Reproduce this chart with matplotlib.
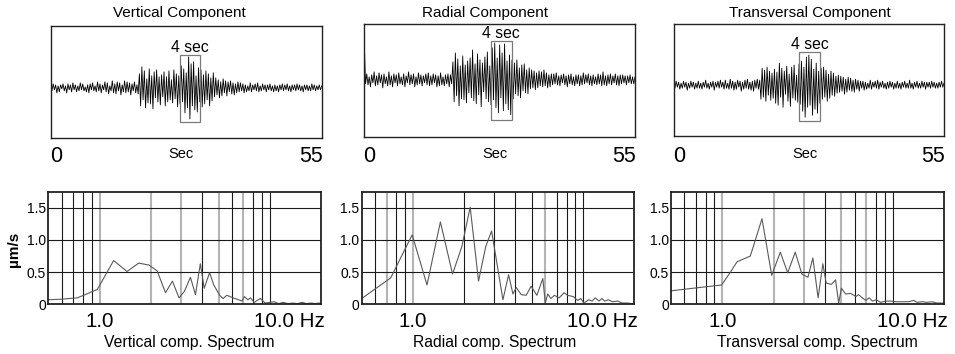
import matplotlib
matplotlib.use("Agg")
import matplotlib.pyplot as plt
import numpy as np

plt.rcParams['font.family'] = ['Liberation Sans', 'DejaVu Sans']

# ---------------- data ----------------
components = ["Vertical", "Radial", "Transversal"]
trace_duration = 55  # seconds

vert_trace = [2, -3, 4, -2, 3, -5, 2, -4, 3, -1, 4, -3, 2, -5, 4, -2, 3, -4, 5, -2,
              3, -4, 2, -3, 5, -2, 4, -3, 1, -4, 3, -5, 4, -2, 5, -3, 2, -4, 6, -3,
              4, -5, 3, -2, 6, -4, 5, -6, 2, -3, 7, -5, 4, -6, 6, -3, 5, -7, 3, -4,
              7, -5, 6, -4, 5, -7, 4, -3, 6, -5, 3, -6,
              14, -18, 21, -12, 17, -20, 9, -15, 19, -16, 12, -21, 16, -10, 18, -14, 11,
              -17, 13, -9, 16, -18, 11, -14, 17, -12, 8, -15, 18, -11, 14, -19, 12,
              -16, 22, -14, 19, -25, 15, -20, 31, -31, 24, -18, 26, -22, 12, -24, 20, -14,
              18, -19, 13, -16, 17, -12, 14, -18, 10, -13, 15,
              -9, 10, -7, 8, -10, 6, -8, 9, -5, 7, -8, 6, -4, 7, -6, 5, -7, 4, -5, 6,
              -4, 5, -3, 4, -5, 3, -4, 2, -3, 5, -4, 3, -2, 4, -3, 5, -4, 2, -3, 4,
              -2, 3, -4, 3, -2, 4, -3, 2, -4, 3, -3, 2, -4, 3, -2, 4, -3, 3, -2, 4,
              -3, 2, -4, 3, -2, 3, -3, 4, -2, 3, -3, 2, -4, 3, -2, 3, -3, 2, -3, 4,
              -2, 3, -3, 2, -2, 3, -2, 2]

rad_trace = [37, -4, 6, -5, 3, -7, 5, -3, 8, -6, 4, -5, 7, -3, 5, -8, 6, -4, 3, -6,
             8, -5, 4, -7, 6, -3, 5, -6, 7, -4, 3, -5, 6, -7, 4, -3, 8, -5, 5, -4,
             6, -7, 3, -5, 7, -4, 5, -6, 4, -3, 6, -5, 7, -6, 4, -5, 6, -3, 5, -7,
             4, -6, 7, -5, 3, -6, 5, -4, 6, -7, 5, -4,
             18, -22, 27, -16, 21, -26, 14, -19, 24, -20, 15, -23, 19, -13, 22,
             -18, 30, -21, 16, -24, 26, -15, 20, -27, 17, -12, 23, -19, 28, -22, 14, -25,
             32, -20, 37, -28, 22, -33, 35, -18, 27, -31, 36, -24, 19, -30, 25, -35, 20,
             -19, 17, -14, 20, -16, 12, -18, 15, -11, 16, -13, 10, -14, 12, -9,
             10, -8, 9, -10, 7, -8, 9, -6, 8, -7, 10, -6, 7, -8, 5, -7, 6,
             -5, 6, -4, 7, -5, 4, -6, 5, -3, 6, -5, 4, -7, 5, -4, 6, -5, 3, -6, 5,
             -4, 5, -6, 4, -5, 7, -4, 5, -3, 6, -5, 4, -6, 5, -4, 3, -5, 6, -4, 5,
             -6, 8, -5, 4, -6, 5, -4, 6, -5, 4, -3, 6, -5, 4, -6, 5, -4, 5, -3, 4,
             -5, 4, -3, 5, -4, 3, -4, 3]

trans_trace = [8, -3, 4, -2, 3, -4, 2, -3, 4, -2, 3, -5, 2, -3, 4, -2, 3, -4, 2, -3,
               4, -3, 2, -4, 3, -2, 5, -3, 2, -4, 3, -2, 4, -5, 3, -2, 4, -3, 5, -2,
               3, -4, 5, -3, 2, -4, 6, -3, 4, -5, 3, -4, 5, -2, 4, -6, 3, -4, 5, -3,
               6, -4, 3, -5, 4, -6, 5, -3, 6, -4, 5,
               -14, 17, -12, 15, -16, 18, -10, 14, -15, 12, -13, 16,
               -18, 13, -20, 22, -12, 17, -22, 14, -9, 19, -16, 11, -21, 18, -13, 20, -15, 10, -17, 21,
               -19, 24, -26, 18, -32, 28, -22, 30, -20, 26, -30, 16, -24, 22, -28, 14, -18,
               17, -14, 18, -12, 15, -16, 11, -13, 14, -10, 12, -11, 9,
               -8, 10, -7, 9, -6, 8, -9, 6, -7, 8, -5, 7, -6, 5, -7, 6, -4, 5, -6, 4,
               -3, 4, -5, 3, -4, 2, -3, 5, -4, 3, -2, 4, -3, 5, -4, 3, -2, 4, -3, 2,
               -4, 3, -3, 4, -2, 3, -4, 2, -3, 4, -3, 2, -4, 3, -2, 4, -3, 2, -3, 5,
               -3, 2, -4, 3, -2, 4, -3, 2, -3, 4, -2, 3, -4, 3, -2, 3, -3, 4, -2, 3,
               -3, 2, -3, 3, -2, 4, -2, 2]

# 4-second analysis windows: start, end (s), upper, lower amplitude
win_start = [26.2, 25.7, 25.5]
win_end = [30.3, 30.0, 29.8]
win_top = [33, 39, 33]
win_bottom = [-34, -40, -36]
trace_ylim = [(-50, 62), (-57, 56), (-51, 61)]

vert_f = [0.5, 0.6, 0.74, 0.97, 1.21, 1.45, 1.7, 1.95, 2.18, 2.44, 2.68, 2.93,
          3.15, 3.42, 3.66, 3.91, 4.12, 4.43, 4.69, 5.08, 5.32, 5.6, 6.09, 6.57,
          6.87, 7.1, 7.43, 7.7, 8.1, 8.8, 9.4, 10.0, 10.6, 11.3, 12.0, 12.8,
          13.6, 14.5, 15.5, 16.5, 17.5, 18.5, 19.5, 20]
vert_a = [0.07, 0.08, 0.10, 0.23, 0.68, 0.51, 0.64, 0.61, 0.52, 0.18, 0.36, 0.10,
          0.20, 0.42, 0.15, 0.63, 0.25, 0.49, 0.30, 0.14, 0.09, 0.14, 0.10, 0.07,
          0.05, 0.12, 0.07, 0.10, 0.03, 0.09, 0.02, 0.03, 0.04, 0.01, 0.03, 0.01,
          0.02, 0.01, 0.03, 0.01, 0.02, 0.01, 0.02, 0.01]

rad_f = [0.5, 0.74, 0.99, 1.21, 1.45, 1.71, 1.94, 2.17, 2.43, 2.68, 2.90, 3.38,
         3.65, 3.87, 4.05, 4.33, 4.63, 4.95, 5.35, 5.80, 6.0, 6.2, 6.47, 6.78,
         7.23, 7.73, 8.1, 8.76, 9.27, 9.7, 10.1, 10.8, 11.3, 11.8, 12.4, 12.9,
         13.4, 14.1, 14.9, 15.9, 17.0, 18.2, 19.4, 20]
rad_a = [0.09, 0.41, 1.08, 0.30, 1.28, 0.47, 0.90, 1.51, 0.36, 0.90, 1.14, 0.07,
         0.46, 0.16, 0.26, 0.15, 0.14, 0.28, 0.14, 0.40, 0.02, 0.16, 0.09, 0.14,
         0.10, 0.18, 0.14, 0.12, 0.06, 0.09, 0.02, 0.07, 0.05, 0.10, 0.05, 0.09,
         0.05, 0.07, 0.04, 0.05, 0.02, 0.02, 0.01, 0.01]

trans_f = [0.5, 0.99, 1.11, 1.22, 1.46, 1.71, 1.95, 2.19, 2.42, 2.68, 2.93, 3.18,
           3.40, 3.65, 3.89, 4.07, 4.37, 4.62, 4.82, 5.0, 5.29, 5.66, 6.08, 6.3,
           6.64, 6.95, 7.27, 7.6, 8.0, 8.5, 9.1, 9.7, 10.4, 11.3, 12.4, 13.3,
           13.9, 14.8, 15.9, 17.0, 18.2, 19.5, 20]
trans_a = [0.21, 0.30, 0.49, 0.66, 0.75, 1.33, 0.45, 0.81, 0.49, 0.81, 0.47, 0.42,
           0.72, 0.10, 0.63, 0.33, 0.31, 0.38, 0.02, 0.25, 0.16, 0.17, 0.12, 0.15,
           0.10, 0.06, 0.10, 0.05, 0.07, 0.03, 0.05, 0.05, 0.04, 0.04, 0.04, 0.06,
           0.03, 0.04, 0.03, 0.04, 0.02, 0.02, 0.02]

spec_yticks = [0, 0.5, 1.0, 1.5]
spec_yticklabels = ["0", "0.5", "1.0", "1.5"]
grid_freqs = [0.6, 0.7, 0.8, 0.9, 1, 2, 3, 4, 5, 6, 7, 8, 9, 10]
gray_freqs = [[1, 2, 3, 5, 7], [0.7, 1, 6], [1, 2, 3, 5, 7]]

traces = [vert_trace, rad_trace, trans_trace]
spec_f = [vert_f, rad_f, trans_f]
spec_a = [vert_a, rad_a, trans_a]

# ---------------- layout (pixels) ----------------
W, H = 955, 354
fig = plt.figure(figsize=(W / 100, H / 100), dpi=100)


def px_axes(l, t, r, b):
    return fig.add_axes([l / W, 1 - b / H, (r - l) / W, (b - t) / H])


def ftext(x, y, s, **kw):
    fig.text(x / W, 1 - y / H, s, **kw)


top_rects = [(50.7, 25.7, 321.7, 138), (364.3, 24, 635, 136.7), (673.7, 24, 944, 136.3)]
bot_rects = [(48.3, 191.7, 321, 304.3), (361.7, 191.7, 634.3, 304.3), (671, 191.7, 944, 304.3)]
title_x = [179, 485, 810]
sec_x = [181, 495, 805]
spec_label_x = [189, 495, 817]

for i, comp in enumerate(components):
    # ---- seismogram ----
    ax = px_axes(*top_rects[i])
    tr = traces[i]
    t = np.linspace(0, trace_duration, len(tr))
    ax.plot(t, tr, color="black", lw=0.6)
    ax.set_xlim(0, trace_duration)
    ax.set_ylim(*trace_ylim[i])
    ax.add_patch(plt.Rectangle((win_start[i], win_bottom[i]),
                               win_end[i] - win_start[i], win_top[i] - win_bottom[i],
                               fill=False, edgecolor="#7a7a7a", lw=0.9, zorder=3))
    ax.annotate("4 sec", xy=((win_start[i] + win_end[i]) / 2, win_top[i]),
                xytext=(0, 2), textcoords="offset points",
                ha="center", va="baseline", fontsize=11.3)
    ax.set_xticks([])
    ax.set_yticks([])
    for s in ax.spines.values():
        s.set_linewidth(1.0)
        s.set_color("#222222")
    l, tp, r, b = top_rects[i]
    ftext(title_x[i], 16.7, f"{comp} Component", ha="center", va="baseline", fontsize=11)
    ftext(l - 1, 161.5, "0", ha="left", va="baseline", fontsize=15.5)
    ftext(r + 1, 161.5, "55", ha="right", va="baseline", fontsize=15.5)
    ftext(sec_x[i], 158.3, "Sec", ha="center", va="baseline", fontsize=10.5)

    # ---- spectrum ----
    bx = px_axes(*bot_rects[i])
    bx.set_xscale("log")
    bx.set_xlim(0.5, 20)
    bx.set_ylim(0, 1.75)
    for fq in grid_freqs:
        if fq in gray_freqs[i]:
            bx.axvline(fq, color="#b4b4b4", lw=1.5, zorder=1)
        else:
            bx.axvline(fq, color="#1a1a1a", lw=0.8, zorder=1)
    for yv in spec_yticks[1:]:
        bx.axhline(yv, color="#1a1a1a", lw=0.8, zorder=1)
    bx.plot(spec_f[i], spec_a[i], color="#5a5a5a", lw=0.8, zorder=2)
    bx.set_xticks([])
    bx.minorticks_off()
    bx.set_xticks([], minor=True)
    bx.set_yticks(spec_yticks)
    bx.set_yticklabels(spec_yticklabels, fontsize=10)
    bx.tick_params(axis="y", length=0, pad=1.5)
    for s in bx.spines.values():
        s.set_linewidth(1.3)
        s.set_color("#222222")
    bx.annotate("1.0", xy=(1.0, 0), xycoords=("data", "axes fraction"),
                xytext=(0, -16.1), textcoords="offset points",
                ha="center", va="baseline", fontsize=14.8)
    bx.annotate("10.0 Hz", xy=(10.0, 0), xycoords=("data", "axes fraction"),
                xytext=(-11.3, -16.1), textcoords="offset points",
                ha="left", va="baseline", fontsize=14.8)
    ftext(spec_label_x[i], 346.7, f"{comp} comp. Spectrum",
          ha="center", va="baseline", fontsize=11.3)
    if i == 0:
        ftext(14, 249, "µm/s", ha="center", va="center", rotation=90,
              fontsize=11, fontweight="bold")

fig.savefig("out.png", dpi=100)
